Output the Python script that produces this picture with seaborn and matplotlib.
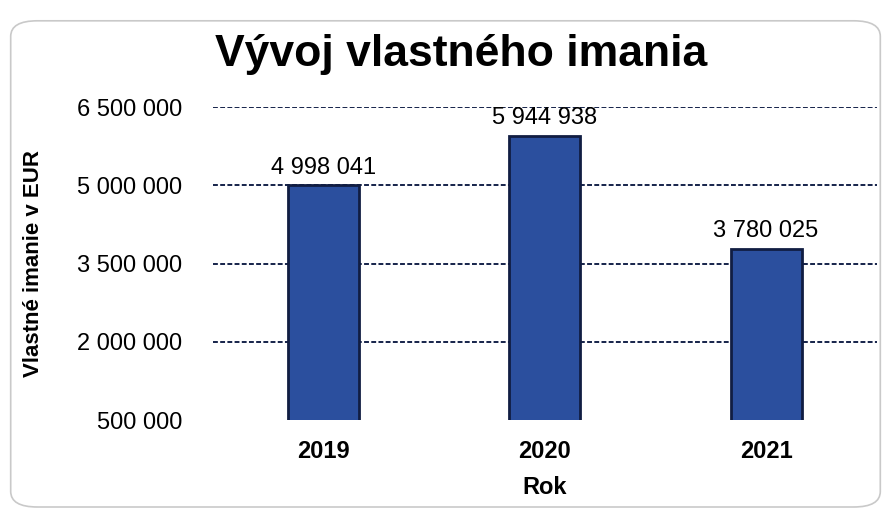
import matplotlib
matplotlib.use("Agg")
import matplotlib.pyplot as plt
import matplotlib.ticker as mtick
from matplotlib.patches import FancyBboxPatch
import seaborn as sns
import pandas as pd

# ── Data ──────────────────────────────────────────────────────────────────────
years = ["2019", "2020", "2021"]
equity = [4998041, 5944938, 3780025]
y_ticks = [500000, 2000000, 3500000, 5000000, 6500000]

TITLE = "Vývoj vlastného imania"
XLABEL = "Rok"
YLABEL = "Vlastné imanie v EUR"

BAR_COLOR = "#2b4f9e"
EDGE_COLOR = "#111d42"
GRID_COLOR = "#15224a"


def fmt_space(v, pos=None):
    return f"{v:,.0f}".replace(",", " ")


sns.set_theme(style="white")
plt.rcParams["font.family"] = ["Liberation Sans", "DejaVu Sans"]
plt.rcParams["text.color"] = "black"
plt.rcParams["xtick.color"] = "black"
plt.rcParams["ytick.color"] = "black"
plt.rcParams["axes.labelcolor"] = "black"

df = pd.DataFrame({"Rok": years, "Imanie": equity})

fig = plt.figure(figsize=(8.91, 5.2), dpi=100)
ax = fig.add_axes([0.239, 0.192, 0.745, 0.602])

# rounded chart frame
frame = FancyBboxPatch((0.012, 0.025), 0.976, 0.935,
                       boxstyle="round,pad=0,rounding_size=0.03",
                       transform=fig.transFigure, facecolor="none",
                       edgecolor="#c9c9c9", linewidth=1.2, zorder=0)
fig.patches.append(frame)

for t in y_ticks[1:]:
    ax.axhline(t, color=GRID_COLOR, linestyle=(0, (2.5, 1.2)),
               linewidth=1.4, zorder=1)

sns.barplot(data=df, x="Rok", y="Imanie", ax=ax, color=BAR_COLOR,
            width=0.32, edgecolor=EDGE_COLOR, linewidth=2, saturation=1,
            zorder=2)

ax.set_ylim(y_ticks[0], y_ticks[-1])
ax.set_yticks(y_ticks)
ax.yaxis.set_major_formatter(mtick.FuncFormatter(fmt_space))
ax.tick_params(axis="y", labelsize=17, pad=22, length=0)
ax.tick_params(axis="x", labelsize=17, pad=14, length=0)
for lbl in ax.get_xticklabels():
    lbl.set_fontweight("bold")

for bar, val in zip(ax.patches, equity):
    ax.text(bar.get_x() + bar.get_width() / 2, val + 130000,
            fmt_space(val), ha="center", va="bottom", fontsize=17,
            color="black", zorder=3)

ax.set_xlabel(XLABEL, fontsize=17, fontweight="bold", labelpad=10)
ax.set_ylabel(YLABEL, fontsize=16, fontweight="bold", labelpad=14)
ax.yaxis.set_label_coords(-0.255, 0.5)

for s in ax.spines.values():
    s.set_visible(False)

fig.text(0.517, 0.895, TITLE, ha="center", va="center",
         fontsize=32, fontweight="bold", color="black")

fig.savefig("out.png", dpi=100)
